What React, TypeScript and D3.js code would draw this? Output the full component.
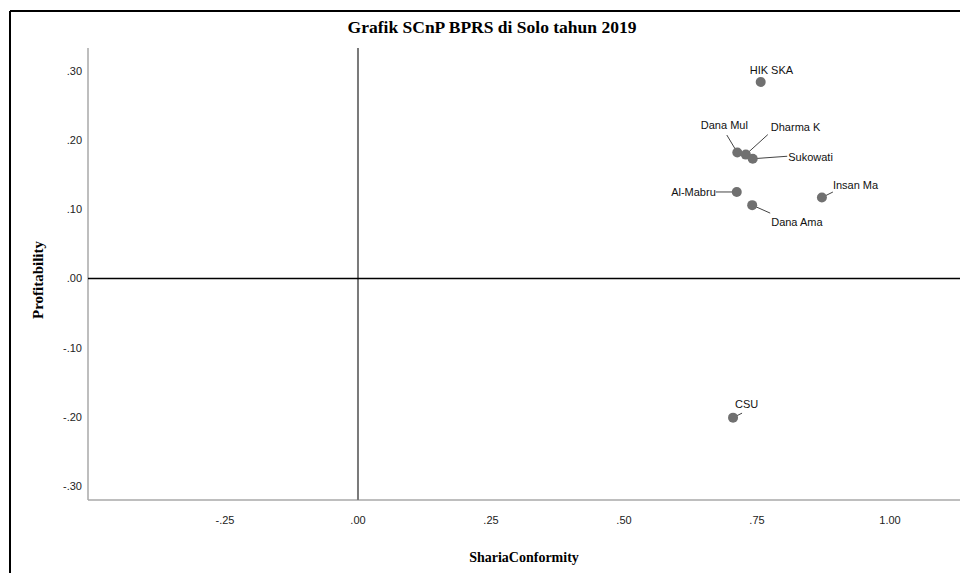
import React from "react";
import * as d3 from "d3";

const names = ["HIK SKA", "Dana Mul", "Dharma K", "Sukowati", "Al-Mabru", "Dana Ama", "Insan Ma", "CSU"];
const shariaConformity = [0.757, 0.713, 0.729, 0.742, 0.712, 0.741, 0.872, 0.705];
const profitability = [0.284, 0.182, 0.179, 0.173, 0.125, 0.106, 0.117, -0.201];
const xTicks = [-0.25, 0, 0.25, 0.5, 0.75, 1.0];
const yTicks = [-0.3, -0.2, -0.1, 0, 0.1, 0.2, 0.3];

// label placement (pixel offsets from the point): text x, text y-center, anchor, leader end
const labelLayout: { tx: number; ty: number; anchor: string; lx?: number; ly?: number }[] = [
  { tx: -11, ty: -12, anchor: "start" },
  { tx: -36.5, ty: -27, anchor: "start", lx: -10.5, ly: -17.5 },
  { tx: 25, ty: -27, anchor: "start", lx: 22, ly: -20 },
  { tx: 35.5, ty: -2, anchor: "start", lx: 34.5, ly: -2.5 },
  { tx: -21, ty: 0, anchor: "end", lx: -21, ly: 0 },
  { tx: 19, ty: 17, anchor: "start", lx: 18, ly: 8 },
  { tx: 11, ty: -12.5, anchor: "start", lx: 11, ly: -5.5 },
  { tx: 2, ty: -13.5, anchor: "start", lx: 9, ly: -4.5 },
];

const W = 960;
const H = 573;
const serif = "'Liberation Serif', 'Times New Roman', serif";
const sans = "'Liberation Sans', Arial, sans-serif";

const fmt = (v: number) => {
  const a = Math.abs(v) < 1e-9 ? 0 : v;
  const s = d3.format(".2f")(Math.abs(a)).replace(/^0\./, ".");
  return (a < 0 ? "-" : "") + s;
};

export default function App() {
  const x = d3.scaleLinear().domain([-0.5075, 1.1316]).range([88, 960]);
  const y = d3.scaleLinear().domain([-0.32, 0.333]).range([500, 48]);
  const [x0, x1] = x.range();
  const [y0, y1] = y.range();

  return (
    <svg width={W} height={H} style={{ position: "absolute", left: 0, top: 0, background: "#fff" }}>
      <rect x={0} y={0} width={W} height={H} fill="#fff" />
      {/* outer frame */}
      <line x1={10} y1={11} x2={W} y2={11} stroke="#000" strokeWidth={2} />
      <line x1={10} y1={11} x2={10} y2={H} stroke="#000" strokeWidth={2} />

      <text x={492} y={33} textAnchor="middle" fontFamily={serif} fontWeight="bold" fontSize={17.5} fill="#000">
        Grafik SCnP BPRS di Solo tahun 2019
      </text>

      {/* axes */}
      <line x1={x0} y1={y1} x2={x0} y2={y0} stroke="#a8a8a8" strokeWidth={1.5} />
      <line x1={x0} y1={y0} x2={x1} y2={y0} stroke="#a8a8a8" strokeWidth={1.5} />

      {/* reference lines */}
      <line x1={x(0)} y1={y1} x2={x(0)} y2={y0} stroke="#7a7a7a" strokeWidth={2} />
      <line x1={x0} y1={y(0)} x2={x1} y2={y(0)} stroke="#000" strokeWidth={1.5} />

      {yTicks.map((t) => (
        <text key={"y" + t} x={82} y={y(t)} dy="0.35em" textAnchor="end" fontFamily={sans} fontSize={11} fill="#222">
          {fmt(t)}
        </text>
      ))}
      {xTicks.map((t) => (
        <text key={"x" + t} x={x(t)} y={520} dy="0.35em" textAnchor="middle" fontFamily={sans} fontSize={11} fill="#222">
          {fmt(t)}
        </text>
      ))}

      <text x={524} y={562} textAnchor="middle" fontFamily={serif} fontWeight="bold" fontSize={14} fill="#000">
        ShariaConformity
      </text>
      <text
        transform={`translate(43, 280) rotate(-90)`}
        textAnchor="middle"
        fontFamily={serif}
        fontWeight="bold"
        fontSize={15}
        fill="#000"
      >
        Profitability
      </text>

      {names.map((n, i) => {
        const px = x(shariaConformity[i]);
        const py = y(profitability[i]);
        const L = labelLayout[i];
        return (
          <g key={n}>
            {L.lx !== undefined && (
              <line x1={px} y1={py} x2={px + L.lx} y2={py + (L.ly ?? 0)} stroke="#444" strokeWidth={1} />
            )}
          </g>
        );
      })}
      {names.map((n, i) => {
        const px = x(shariaConformity[i]);
        const py = y(profitability[i]);
        return <circle key={"c" + n} cx={px} cy={py} r={5} fill="#707070" />;
      })}
      {names.map((n, i) => {
        const px = x(shariaConformity[i]);
        const py = y(profitability[i]);
        const L = labelLayout[i];
        return (
          <text
            key={"t" + n}
            x={px + L.tx}
            y={py + L.ty}
            dy="0.35em"
            textAnchor={L.anchor}
            fontFamily={sans}
            fontSize={11}
            fill="#111"
          >
            {n}
          </text>
        );
      })}
    </svg>
  );
}
